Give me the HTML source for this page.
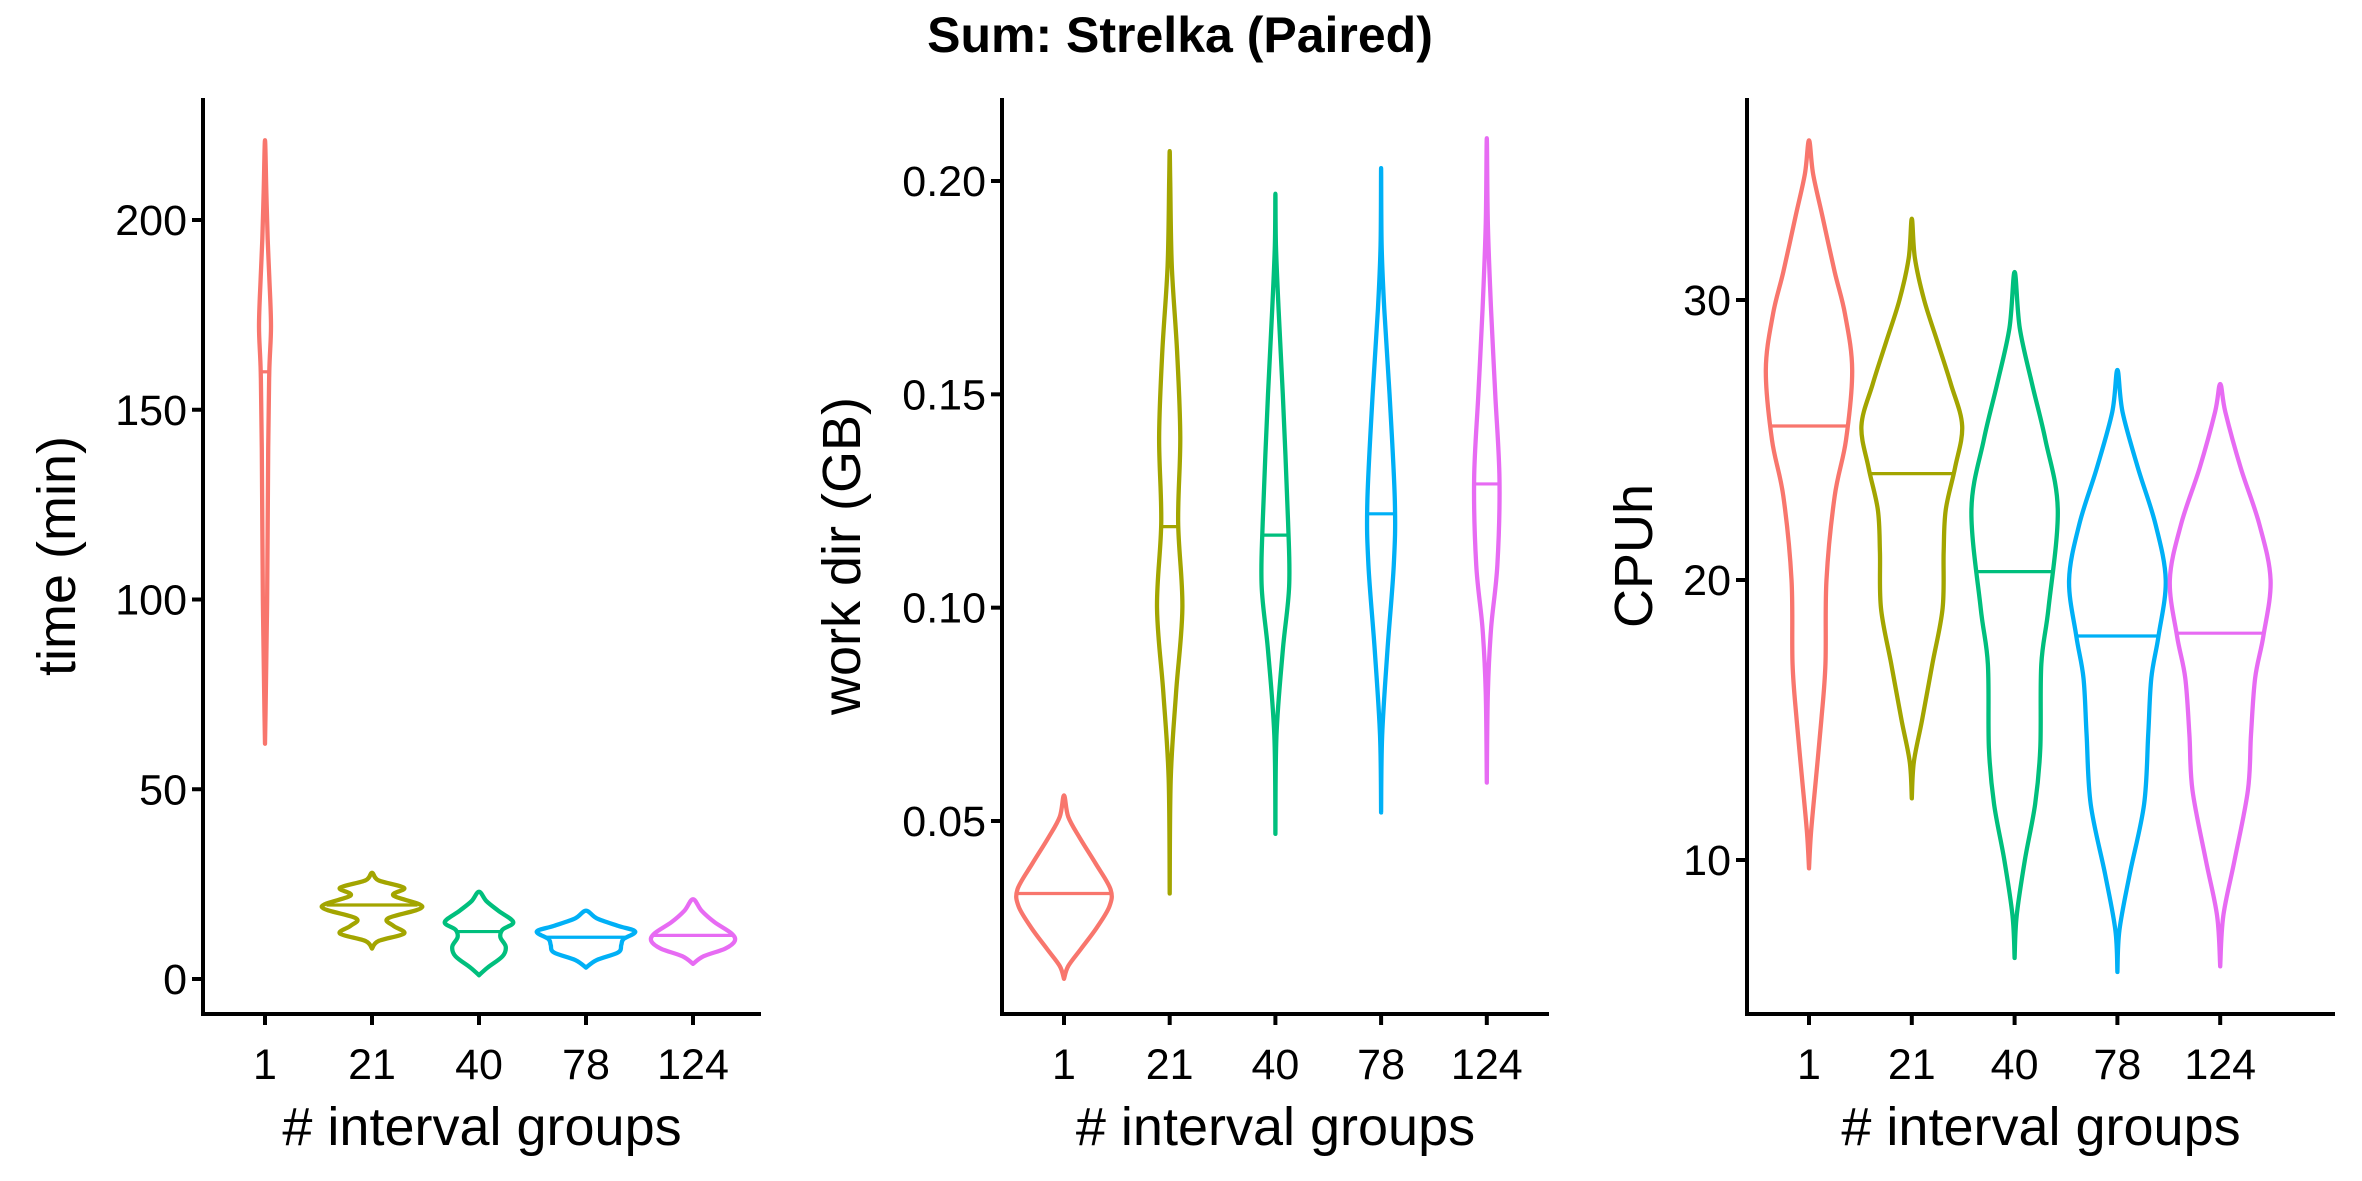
<!DOCTYPE html>
<html><head><meta charset="utf-8"><style>
body{margin:0;background:#fff}
svg{display:block;font-family:"Liberation Sans",Arial,sans-serif}
</style></head><body>
<svg id="c" width="2362" height="1181" viewBox="0 0 2362 1181" xmlns="http://www.w3.org/2000/svg">
<text x="1180" y="52" font-size="50" font-weight="bold" text-anchor="middle">Sum: Strelka (Paired)</text>
</svg>
<script>
const categories = ["1","21","40","78","124"];
const colors = ["#F8766D","#A3A500","#00BF7D","#00B0F6","#E76BF3"];
// [value, half-width in category units], bottom to top
const timeProfiles = [
 [[62,0],[70,0.005],[100,0.02],[140,0.03],[160,0.04],[172,0.056],[185,0.04],[195,0.025],[208,0.012],[221,0]],
 [[8,0],[10,0.06],[12,0.3],[14,0.2],[16,0.15],[19,0.47],[22,0.2],[24,0.3],[26,0.06],[28,0]],
 [[1,0],[3,0.08],[6,0.22],[8.5,0.25],[11,0.2],[13,0.22],[15,0.32],[18,0.18],[20.5,0.07],[23,0]],
 [[3,0],[5,0.1],[7,0.3],[9,0.33],[10.5,0.35],[12.5,0.46],[14,0.3],[16,0.1],[18,0]],
 [[4,0],[6,0.1],[8,0.3],[10,0.39],[12,0.36],[15,0.2],[18,0.08],[21,0]]
];
const timeMedians = [160,19.5,12.5,11,11.5];
const workProfiles = [
 [[0.013,0],[0.016,0.04],[0.02,0.16],[0.025,0.31],[0.03,0.43],[0.034,0.44],[0.04,0.3],[0.046,0.15],[0.051,0.04],[0.056,0]],
 [[0.033,0],[0.06,0.01],[0.08,0.06],[0.10,0.12],[0.12,0.08],[0.14,0.1],[0.16,0.07],[0.18,0.02],[0.2,0.005],[0.207,0]],
 [[0.047,0],[0.07,0.01],[0.09,0.07],[0.105,0.13],[0.12,0.12],[0.15,0.07],[0.17,0.03],[0.185,0.005],[0.197,0]],
 [[0.052,0],[0.07,0.01],[0.09,0.06],[0.11,0.12],[0.125,0.13],[0.15,0.08],[0.17,0.03],[0.185,0.005],[0.203,0]],
 [[0.059,0],[0.08,0.01],[0.095,0.04],[0.11,0.1],[0.13,0.12],[0.15,0.08],[0.17,0.04],[0.19,0.01],[0.21,0]]
];
const workMedians = [0.033,0.119,0.117,0.122,0.129];
const cpuProfiles = [
 [[9.7,0],[11,0.02],[13,0.07],[15,0.12],[17,0.16],[20,0.17],[23,0.25],[25,0.36],[27.5,0.42],[29.5,0.35],[31,0.25],[33,0.13],[34.5,0.04],[35.7,0]],
 [[12.2,0],[13.5,0.02],[15,0.1],[17,0.2],[19,0.3],[21,0.31],[22.5,0.33],[24,0.42],[25.5,0.49],[27,0.38],[28.5,0.25],[30,0.12],[31.5,0.03],[32.9,0]],
 [[6.5,0],[8,0.02],[10,0.1],[12,0.2],[14,0.25],[17,0.26],[19,0.33],[22.5,0.42],[25,0.3],[27,0.17],[29,0.05],[31,0]],
 [[6,0],[7.5,0.02],[9.5,0.12],[12,0.26],[14.5,0.3],[16.5,0.33],[18,0.4],[20,0.47],[22,0.37],[24,0.2],[26,0.05],[27.5,0]],
 [[6.2,0],[8,0.03],[10,0.14],[12.5,0.27],[14.5,0.3],[16.5,0.34],[18,0.42],[20,0.49],[22,0.38],[24,0.2],[26,0.05],[27,0]]
];
const cpuMedians = [25.5,23.8,20.3,18,18.1];
const timeTicks = [0,50,100,150,200];
const workTicks = [0.05,0.10,0.15,0.20];
const workTickLabels = ["0.05","0.10","0.15","0.20"];
const cpuTicks = [10,20,30];

const svg = document.getElementById('c');
const NS = 'http://www.w3.org/2000/svg';
function mk(tag, attrs){const e=document.createElementNS(NS,tag);for(const k in attrs)e.setAttribute(k,attrs[k]);svg.appendChild(e);return e;}

function panel(cfg){
  const {ax, axRight, top, bottom, v0, p0, v1, p1, cat0, step, ticks, labels, profiles, medians, ytitle, ytx, key} = cfg;
  const y = v => p0 + (v - v0) * (p1 - p0) / (v1 - v0);
  const x = i => cat0 + i * step;
  let e = mk('line',{x1:ax,y1:top,x2:ax,y2:bottom+2,stroke:'#000','stroke-width':4});
   
  e = mk('line',{x1:ax-2,y1:bottom,x2:axRight,y2:bottom,stroke:'#000','stroke-width':4});
   
  ticks.forEach((t,k)=>{
    const yy=y(t);
    let l=mk('line',{x1:ax-11,y1:yy,x2:ax,y2:yy,stroke:'#000','stroke-width':4});
     
    let tx=mk('text',{x:ax-16,y:yy+15,'font-size':43,'text-anchor':'end'});
    tx.textContent = labels ? labels[k] : String(t);
     
  });
  categories.forEach((c,i)=>{
    const xx=x(i);
    let l=mk('line',{x1:xx,y1:bottom,x2:xx,y2:bottom+11,stroke:'#000','stroke-width':4});
     
    let tx=mk('text',{x:xx,y:bottom+65,'font-size':43,'text-anchor':'middle'});
    tx.textContent=c;
     
  });
  let xt=mk('text',{x:(ax+axRight)/2,y:1145,'font-size':54,'text-anchor':'middle'});
  xt.textContent='# interval groups';
   
  let yt=mk('text',{x:0,y:0,'font-size':54,'text-anchor':'middle',transform:`translate(${ytx},${(top+bottom)/2}) rotate(-90)`});
  yt.textContent=ytitle;
   
  profiles.forEach((prof,i)=>{
    const cx=x(i);
    const right=prof.map(p=>[cx+p[1]*step, y(p[0])]);
    const left=prof.slice().reverse().map(p=>[cx-p[1]*step, y(p[0])]);
    const pts=right.concat(left.slice(1));
    let d='M'+pts[0][0]+','+pts[0][1];
    for(let k=0;k<pts.length-1;k++){
      const p0=pts[Math.max(0,k-1)],p1=pts[k],p2=pts[k+1],p3=pts[Math.min(pts.length-1,k+2)];
      const c1=[p1[0]+(p2[0]-p0[0])/6,p1[1]+(p2[1]-p0[1])/6];
      const c2=[p2[0]-(p3[0]-p1[0])/6,p2[1]-(p3[1]-p1[1])/6];
      d+=` C${c1[0]},${c1[1]} ${c2[0]},${c2[1]} ${p2[0]},${p2[1]}`;
    }
    d+='Z';
    let v=mk('path',{d:d,fill:'none',stroke:colors[i],'stroke-width':4.3,'stroke-linejoin':'round'});
     
    const m=medians[i];
    let w=0;
    for(let k=0;k<prof.length-1;k++){
      if(m>=prof[k][0]&&m<=prof[k+1][0]){const f=(m-prof[k][0])/(prof[k+1][0]-prof[k][0]);w=prof[k][1]+f*(prof[k+1][1]-prof[k][1]);}
    }
    let ml=mk('line',{x1:cx-w*step,y1:y(m),x2:cx+w*step,y2:y(m),stroke:colors[i],'stroke-width':3.2});
     
  });
}
panel({key:'time',ax:203,axRight:761,top:98,bottom:1014,v0:0,p0:979,v1:200,p1:220,cat0:265,step:107,ticks:timeTicks,profiles:timeProfiles,medians:timeMedians,ytitle:'time (min)',ytx:75});
panel({key:'workdir',ax:1002,axRight:1549,top:98,bottom:1014,v0:0.05,p0:821,v1:0.20,p1:181,cat0:1064,step:105.7,ticks:workTicks,labels:workTickLabels,profiles:workProfiles,medians:workMedians,ytitle:'work dir (GB)',ytx:860});
panel({key:'cpuh',ax:1747,axRight:2335,top:98,bottom:1014,v0:10,p0:860,v1:30,p1:300,cat0:1809,step:102.8,ticks:cpuTicks,profiles:cpuProfiles,medians:cpuMedians,ytitle:'CPUh',ytx:1652});
</script>
</body></html>
